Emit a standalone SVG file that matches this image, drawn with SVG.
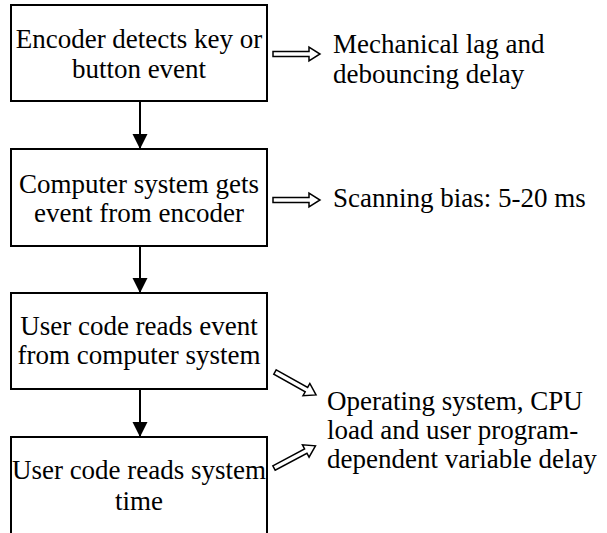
<svg xmlns="http://www.w3.org/2000/svg" width="607" height="533" viewBox="0 0 607 533">
<style>
.box{fill:#fff;stroke:#000;stroke-width:2}
.t{font-family:'Liberation Serif','Times New Roman',serif;font-size:27px;fill:#000}
.c{text-anchor:middle}
.conn{stroke:#000;stroke-width:2;fill:none}
.ha{fill:#fff;stroke:#000;stroke-width:1.5}
</style>
<defs>
<marker id="ah" markerUnits="userSpaceOnUse" markerWidth="16" markerHeight="16" viewBox="0 0 16 16" refX="15" refY="8" orient="auto">
<path d="M0,0.5 L15,8 L0,15.5 Z" fill="#000"/>
</marker>
<path id="harrow" class="ha" d="M0,-2.5 L36,-2.5 L36,-7 L47,0 L36,7 L36,2.5 L0,2.5 Z"/>
</defs>
<rect width="607" height="533" fill="#fff"/>
<g id="n1">
<rect class="box" x="11" y="5" width="256" height="96"/>
<text class="t c" x="139" y="48">Encoder detects key or</text>
<text class="t c" x="139" y="78">button event</text>
</g>
<g id="n2">
<rect class="box" x="11" y="149" width="256" height="97"/>
<text class="t c" x="139" y="193">Computer system gets</text>
<text class="t c" x="139" y="222">event from encoder</text>
</g>
<g id="n3">
<rect class="box" x="11" y="293" width="256" height="96"/>
<text class="t c" x="139" y="335">User code reads event</text>
<text class="t c" x="139" y="364">from computer system</text>
</g>
<g id="n4">
<rect class="box" x="11" y="437" width="256" height="110"/>
<text class="t c" x="139" y="479">User code reads system</text>
<text class="t c" x="139" y="510">time</text>
</g>
<g id="notes">
<text class="t" x="333" y="53">Mechanical lag and</text>
<text class="t" x="333" y="83">debouncing delay</text>
<text class="t" x="333" y="207">Scanning bias: 5-20 ms</text>
<text class="t" x="327" y="410">Operating system, CPU</text>
<text class="t" x="327" y="439">load and user program-</text>
<text class="t" x="327" y="468">dependent variable delay</text>
</g>
<g id="connectors">
<line class="conn" x1="140" y1="101" x2="140" y2="149" marker-end="url(#ah)"/>
<line class="conn" x1="140" y1="246" x2="140" y2="293" marker-end="url(#ah)"/>
<line class="conn" x1="140" y1="389" x2="140" y2="437" marker-end="url(#ah)"/>
<use href="#harrow" transform="translate(273,54)"/>
<use href="#harrow" transform="translate(273,200)"/>
<use href="#harrow" transform="translate(275,372) rotate(29.2)"/>
<use href="#harrow" transform="translate(274,468) rotate(-28.1)"/>
</g>
</svg>
